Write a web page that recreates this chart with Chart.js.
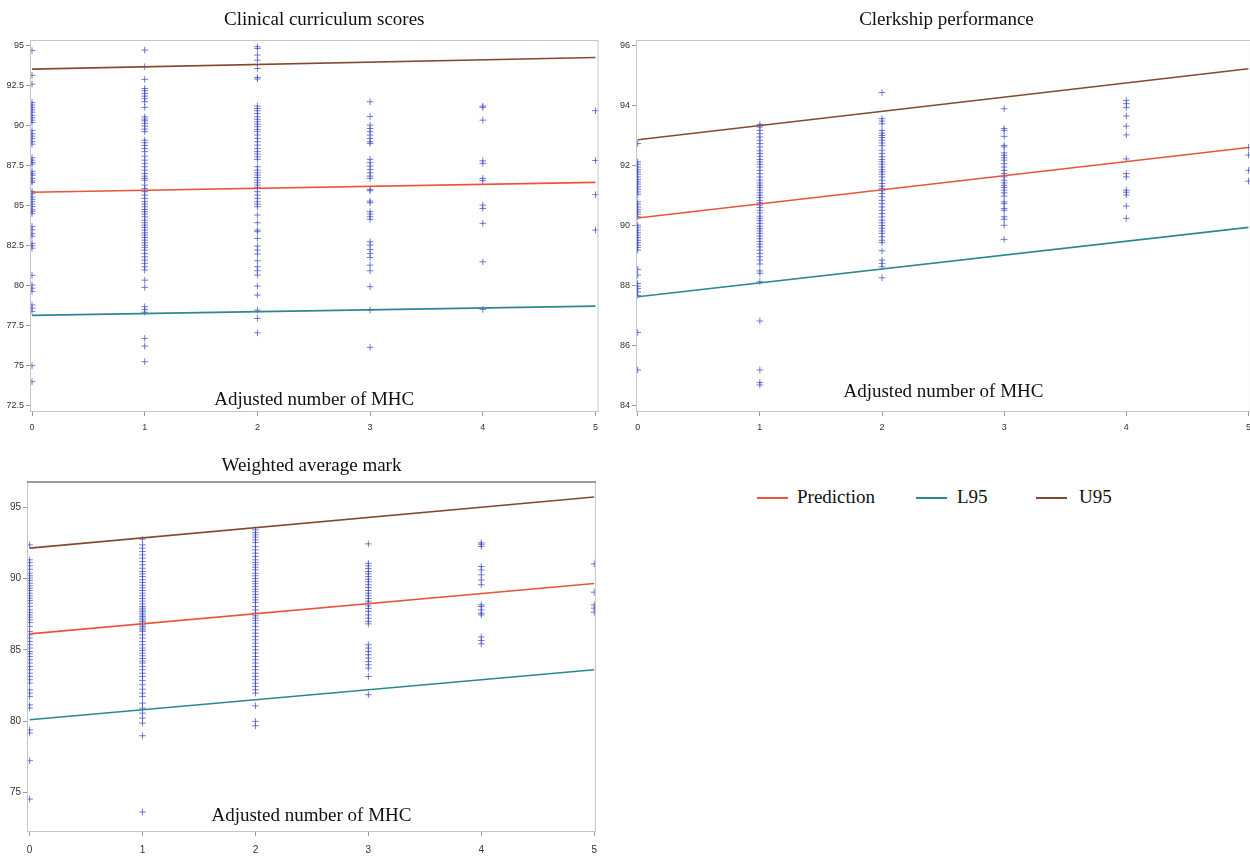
<!DOCTYPE html>
<html>
<head>
<meta charset="utf-8">
<script src="https://cdn.jsdelivr.net/npm/chart.js@4.4.1/dist/chart.umd.min.js"></script>
<style>
  html, body { margin: 0; padding: 0; background: #fff; overflow: hidden; }
  #page { position: relative; width: 1250px; height: 856px; overflow: hidden; }
  .panel { position: absolute; }
  .legend { position: absolute; top: 486px; font: 19px "Liberation Serif", "Times New Roman", serif; color: #111; }
  .legend span.swatch { position: absolute; top: 11px; width: 31px; height: 2px; }
  .legend span.text { position: absolute; top: 0; white-space: nowrap; }
</style>
</head>
<body>
<div id="page">
  <div class="panel" style="left:0;top:0;width:604px;height:432px"><canvas id="clinical"></canvas></div>
  <div class="panel" style="left:606px;top:0;width:651px;height:432px"><canvas id="clerkship"></canvas></div>
  <div class="panel" style="left:0;top:441px;width:605px;height:415px"><canvas id="weighted"></canvas></div>
  <div class="legend" style="left:0">
    <span class="swatch" style="left:757px;background:#e8553b"></span><span class="text" style="left:797px">Prediction</span>
    <span class="swatch" style="left:916px;background:#2b8790"></span><span class="text" style="left:957px">L95</span>
    <span class="swatch" style="left:1036px;background:#85492f"></span><span class="text" style="left:1079px">U95</span>
  </div>
</div>
<script>
const mhcLevels = [0, 1, 2, 3, 4, 5];
const fitX = [0, 5];

// scores per adjusted MHC level (0..5)
const clinicalScores = [
  [94.7, 93.15, 92.6, 91.45, 91.3, 91.15, 91.0, 90.85, 90.65, 90.5, 90.35, 90.2, 89.7, 89.5, 89.35, 89.2, 89.0, 88.85, 88.0, 87.85, 87.7, 87.6, 87.15, 87.0, 86.9, 86.7, 86.55, 86.45, 85.9, 85.75, 85.55, 85.4, 85.25, 85.1, 84.95, 84.75, 84.65, 84.5, 83.7, 83.5, 83.25, 83.1, 82.65, 82.5, 82.35, 80.65, 80.05, 79.85, 79.65, 78.8, 78.6, 78.4, 75.0, 74.0],
  [94.73, 93.69, 92.9, 92.33, 92.19, 92.02, 91.85, 91.69, 91.5, 91.15, 90.56, 90.42, 90.31, 90.15, 89.98, 89.79, 89.63, 89.1, 88.94, 88.77, 88.58, 88.38, 88.1, 87.85, 87.65, 87.44, 87.23, 87.02, 86.85, 86.71, 86.6, 86.29, 86.08, 85.88, 85.67, 85.46, 85.25, 85.1, 84.94, 84.77, 84.63, 84.48, 84.31, 84.1, 83.94, 83.79, 83.65, 83.48, 83.31, 83.17, 83.02, 82.85, 82.69, 82.54, 82.4, 82.23, 82.02, 81.81, 81.6, 81.4, 81.19, 80.98, 80.35, 79.9, 78.69, 78.52, 78.35, 76.71, 76.23, 75.25],
  [94.94, 94.83, 94.42, 94.1, 93.58, 93.02, 92.92, 91.23, 91.08, 90.94, 90.77, 90.56, 90.4, 90.25, 90.1, 89.94, 89.77, 89.63, 89.42, 89.21, 89.0, 88.79, 88.58, 88.38, 88.23, 88.06, 87.9, 87.44, 87.23, 87.06, 86.92, 86.77, 86.6, 86.44, 86.29, 86.15, 85.88, 85.67, 85.46, 85.25, 85.1, 84.94, 84.42, 83.94, 83.48, 83.38, 82.96, 82.48, 82.23, 81.98, 81.56, 81.19, 80.94, 80.67, 79.98, 79.42, 78.48, 77.96, 77.06],
  [91.5, 90.58, 90.04, 89.83, 89.63, 89.42, 89.21, 89.0, 88.9, 87.9, 87.69, 87.48, 87.27, 87.06, 86.85, 86.71, 86.02, 85.94, 85.29, 85.19, 84.63, 84.48, 84.31, 84.15, 82.75, 82.54, 82.27, 82.02, 81.77, 81.29, 80.94, 79.94, 78.48, 76.15],
  [91.23, 91.15, 90.35, 87.81, 87.65, 86.71, 86.56, 85.04, 84.83, 83.9, 81.5, 78.52],
  [90.94, 87.83, 85.69, 83.48],
];
const clerkshipScores = [
  [92.73, 92.12, 92.04, 91.95, 91.86, 91.79, 91.71, 91.62, 91.53, 91.45, 91.38, 91.29, 91.21, 91.12, 91.04, 90.79, 90.71, 90.62, 90.53, 90.46, 90.38, 90.29, 90.01, 89.94, 89.85, 89.76, 89.68, 89.6, 89.51, 89.43, 89.35, 89.27, 89.18, 88.54, 88.35, 88.07, 87.98, 87.9, 87.79, 87.67, 86.44, 85.19],
  [93.37, 93.28, 93.17, 93.06, 92.95, 92.84, 92.73, 92.62, 92.49, 92.4, 92.31, 92.2, 92.12, 92.04, 91.95, 91.84, 91.73, 91.62, 91.51, 91.42, 91.34, 91.27, 91.18, 91.09, 91.01, 90.93, 90.84, 90.76, 90.68, 90.6, 90.51, 90.42, 90.31, 90.24, 90.16, 90.07, 89.98, 89.9, 89.82, 89.74, 89.65, 89.56, 89.47, 89.38, 89.29, 89.18, 89.07, 88.96, 88.85, 88.72, 88.49, 88.41, 88.13, 86.82, 85.19, 84.77, 84.69],
  [94.43, 93.56, 93.48, 93.39, 93.17, 93.08, 93.0, 92.93, 92.84, 92.75, 92.66, 92.51, 92.4, 92.29, 92.2, 92.12, 92.04, 91.95, 91.86, 91.79, 91.71, 91.62, 91.51, 91.4, 91.31, 91.23, 91.16, 91.07, 90.96, 90.84, 90.73, 90.62, 90.51, 90.4, 90.29, 90.18, 90.09, 90.0, 89.91, 89.82, 89.74, 89.63, 89.51, 89.43, 89.16, 88.85, 88.74, 88.63, 88.26],
  [93.89, 93.23, 93.17, 92.97, 92.67, 92.62, 92.42, 92.34, 92.26, 92.18, 92.06, 91.95, 91.84, 91.73, 91.62, 91.51, 91.42, 91.34, 91.27, 91.18, 91.09, 90.98, 90.79, 90.73, 90.57, 90.51, 90.29, 90.21, 90.01, 89.54],
  [94.17, 94.06, 93.93, 93.65, 93.31, 93.02, 92.22, 91.73, 91.62, 91.18, 91.11, 91.02, 90.65, 90.24],
  [92.6, 92.35, 91.84, 91.48],
];
const weightedMarks = [
  [92.36, 91.31, 91.12, 90.89, 90.65, 90.37, 90.19, 90.02, 89.86, 89.67, 89.49, 89.32, 89.16, 88.97, 88.79, 88.62, 88.46, 88.27, 88.04, 87.8, 87.62, 87.45, 87.29, 87.1, 86.92, 86.64, 86.29, 86.05, 85.82, 85.58, 85.35, 85.12, 84.88, 84.72, 84.53, 84.3, 84.07, 83.83, 83.6, 83.36, 83.13, 82.9, 82.66, 82.2, 81.96, 81.73, 81.14, 80.91, 79.39, 79.16, 77.22, 74.53],
  [92.76, 92.36, 92.13, 91.89, 91.66, 91.43, 91.19, 90.96, 90.72, 90.49, 90.33, 90.14, 89.91, 89.72, 89.53, 89.35, 89.16, 88.97, 88.79, 88.6, 88.41, 88.22, 88.04, 87.92, 87.8, 87.69, 87.57, 87.45, 87.34, 87.22, 87.1, 86.99, 86.87, 86.75, 86.64, 86.52, 86.4, 86.29, 86.05, 85.82, 85.58, 85.35, 85.12, 84.95, 84.77, 84.58, 84.39, 84.21, 84.07, 83.83, 83.6, 83.36, 83.13, 82.85, 82.55, 82.24, 81.96, 81.73, 81.26, 80.91, 80.56, 80.21, 79.86, 78.97, 73.62],
  [93.41, 93.22, 93.06, 92.9, 92.71, 92.52, 92.24, 92.01, 91.78, 91.54, 91.31, 91.12, 90.96, 90.79, 90.61, 90.37, 90.19, 90.0, 89.81, 89.63, 89.44, 89.25, 89.07, 88.88, 88.69, 88.5, 88.32, 88.04, 87.8, 87.57, 87.38, 87.22, 87.06, 86.87, 86.64, 86.4, 86.17, 85.93, 85.7, 85.47, 85.23, 85.0, 84.77, 84.53, 84.3, 84.07, 83.83, 83.6, 83.36, 83.13, 82.9, 82.66, 82.43, 82.2, 81.96, 81.07, 79.98, 79.67],
  [92.43, 91.07, 90.89, 90.7, 90.49, 90.33, 90.14, 89.95, 89.77, 89.56, 89.37, 89.16, 88.97, 88.79, 88.6, 88.41, 88.27, 88.08, 87.9, 87.69, 87.45, 87.22, 86.99, 86.82, 85.35, 85.12, 84.88, 84.65, 84.42, 84.18, 83.95, 83.71, 83.13, 81.85],
  [92.5, 92.4, 92.25, 90.84, 90.6, 90.26, 89.9, 89.56, 88.15, 88.04, 87.8, 87.57, 87.45, 85.9, 85.65, 85.42],
  [91.03, 89.04, 88.15, 87.92, 87.64],
];

// regression line and 95% limits, at MHC = 0 and MHC = 5
const clinicalPrediction = [85.84, 86.46];
const clinicalL95 = [78.15, 78.73];
const clinicalU95 = [93.54, 94.27];
const clerkshipPrediction = [90.25, 92.6];
const clerkshipL95 = [87.63, 89.94];
const clerkshipU95 = [92.86, 95.22];
const weightedPrediction = [86.12, 89.65];
const weightedL95 = [80.09, 83.6];
const weightedU95 = [92.13, 95.72];

const SERIF = '"Liberation Serif", "Times New Roman", serif';
const SANS = '"Liberation Sans", Arial, sans-serif';

// title above the box, box around the plot area, and the axis caption inside it
const panelDecor = {
  id: "panelDecor",
  afterDraw(chart, args, opts) {
    const { ctx, chartArea: a } = chart;
    const mid = (a.left + a.right) / 2;
    ctx.save();
    ctx.strokeStyle = "#c6c6c6";
    ctx.lineWidth = 1;
    ctx.strokeRect(a.left + 0.5, a.top + 0.5, a.width - 1, a.height - 1);
    if (opts.heavyTop) {
      ctx.strokeStyle = "#9a9a9a";
      ctx.lineWidth = 2;
      ctx.beginPath();
      ctx.moveTo(a.left, a.top + 1);
      ctx.lineTo(a.right, a.top + 1);
      ctx.stroke();
    }
    ctx.font = "19px " + SERIF;
    ctx.fillStyle = "#111";
    ctx.textAlign = "center";
    ctx.textBaseline = "middle";
    ctx.fillText(opts.title, mid + opts.titleShift, opts.titleY);
    ctx.fillText(opts.label, mid, a.bottom - opts.labelOffset);
    ctx.restore();
  },
};

function fitLine(label, values, color) {
  return {
    type: "line", label, order: 0,
    data: fitX.map((x, i) => ({ x, y: values[i] })),
    borderColor: color, borderWidth: 1.6, pointRadius: 0, fill: false, tension: 0,
  };
}

function makePanel(id, p) {
  const points = [];
  p.scores.forEach((col, i) => col.forEach(v => points.push({ x: mhcLevels[i], y: v })));
  return new Chart(document.getElementById(id), {
    type: "scatter",
    data: {
      datasets: [
        fitLine("Prediction", p.prediction, "#e8553b"),
        fitLine("L95", p.l95, "#2b8790"),
        fitLine("U95", p.u95, "#85492f"),
        {
          label: "Observed", order: 1, data: points,
          pointStyle: "cross", pointRadius: 3.3, borderWidth: 1,
          borderColor: "rgba(55,70,195,0.7)", backgroundColor: "rgba(55,70,195,0.7)",
        },
      ],
    },
    options: {
      animation: false,
      responsive: true, maintainAspectRatio: false,
      layout: { padding: { top: 40 } },
      plugins: {
        legend: { display: false },
        tooltip: { enabled: false },
        title: { display: false },
        panelDecor: {
          title: p.title, titleY: p.titleY, titleShift: p.titleShift,
          label: "Adjusted number of MHC", labelOffset: p.labelOffset, heavyTop: !!p.heavyTop,
        },
      },
      scales: {
        x: {
          type: "linear", min: p.xMin, max: p.xMax,
          border: { display: false },
          grid: { drawOnChartArea: false, tickLength: 4, color: "#9a9a9a" },
          ticks: { stepSize: 1, includeBounds: false, padding: p.xPad, color: "#333", font: { family: SANS, size: p.tickSize } },
          afterFit: s => { s.height = p.xHeight; },
        },
        y: {
          min: p.yMin, max: p.yMax,
          border: { display: false },
          grid: { drawOnChartArea: false, tickLength: 4, color: "#9a9a9a" },
          ticks: { stepSize: p.yStep, includeBounds: false, padding: 2, color: "#333", font: { family: SANS, size: p.tickSize } },
          afterFit: s => { s.width = p.yWidth; },
        },
      },
    },
    plugins: [panelDecor],
  });
}

makePanel("clinical", {
  title: "Clinical curriculum scores", scores: clinicalScores,
  prediction: clinicalPrediction, l95: clinicalL95, u95: clinicalU95,
  xMin: -0.018, xMax: 5.027, yMin: 72.11, yMax: 95.36, yStep: 2.5,
  yWidth: 30, xHeight: 20, xPad: 6, tickSize: 9, titleY: 20, titleShift: 10, labelOffset: 12,
});
makePanel("clerkship", {
  title: "Clerkship performance", scores: clerkshipScores,
  prediction: clerkshipPrediction, l95: clerkshipL95, u95: clerkshipU95,
  xMin: -0.014, xMax: 5.02, yMin: 83.79, yMax: 96.18, yStep: 2,
  yWidth: 30, xHeight: 20, xPad: 6, tickSize: 9, titleY: 20.5, titleShift: 3, labelOffset: 20,
});
makePanel("weighted", {
  title: "Weighted average mark", scores: weightedMarks,
  prediction: weightedPrediction, l95: weightedL95, u95: weightedU95,
  xMin: -0.023, xMax: 5.015, yMin: 72.22, yMax: 96.84, yStep: 5,
  yWidth: 27, xHeight: 24, xPad: 8, tickSize: 10, titleY: 25, titleShift: 0, labelOffset: 16, heavyTop: true,
});
</script>
</body>
</html>
